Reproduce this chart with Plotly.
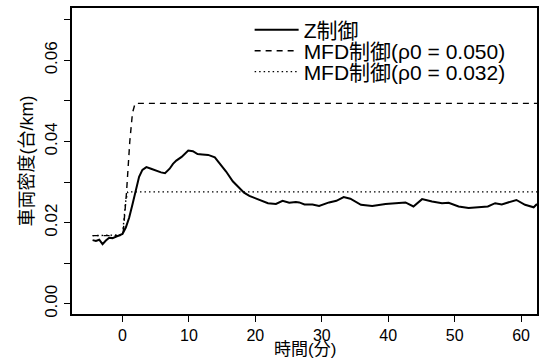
import plotly.graph_objects as go

# Z control (solid)
t_z = [-4.5, -4.0, -3.5, -3.0, -2.5, -2.0, -1.5, -1.0, -0.5, 0.0, 0.5, 1.0, 1.5, 2.0, 2.5,
       3.0, 3.6, 4.3, 5.1, 5.8, 6.4, 7.1, 7.6, 8.1, 8.9, 9.5, 9.9, 10.6, 11.3, 12.0, 12.9,
       13.9, 14.6, 15.6, 16.6, 17.6, 18.3, 19.1, 20.0, 20.6, 21.9, 23.1, 24.1, 25.1, 26.1,
       26.6, 27.4, 28.6, 29.6, 31.1, 32.2, 33.3, 34.3, 35.9, 37.6, 39.6, 41.0, 42.6, 43.8,
       45.1, 46.6, 48.1, 49.1, 50.6, 52.1, 53.6, 55.0, 56.1, 57.1, 59.3, 60.6, 61.9, 62.4]
v_z = [0.0157, 0.0155, 0.0158, 0.0147, 0.0156, 0.0163, 0.0162, 0.0165, 0.0168, 0.0172,
       0.0188, 0.0212, 0.0245, 0.0283, 0.0313, 0.0330, 0.0337, 0.0333, 0.0328, 0.0324,
       0.0322, 0.0333, 0.0345, 0.0353, 0.0362, 0.0372, 0.0378, 0.0376, 0.0369, 0.0368,
       0.0367, 0.0361, 0.0347, 0.0326, 0.0302, 0.0284, 0.0274, 0.0266, 0.0260, 0.0256,
       0.0248, 0.0246, 0.0254, 0.0249, 0.0251, 0.0250, 0.0245, 0.0245, 0.0241, 0.0250,
       0.0254, 0.0263, 0.0259, 0.0244, 0.0241, 0.0246, 0.0247, 0.0250, 0.0240, 0.0258,
       0.0252, 0.0248, 0.0249, 0.0240, 0.0236, 0.0238, 0.0240, 0.0248, 0.0245, 0.0256,
       0.0244, 0.0238, 0.0246]

# MFD control rho0 = 0.050 (dashed)
t_m50 = [-4.5, -0.2, 0.1, 0.6, 1.1, 1.5, 1.9, 62.4]
v_m50 = [0.0168, 0.0168, 0.0175, 0.0273, 0.0400, 0.0470, 0.0494, 0.0494]

# MFD control rho0 = 0.032 (dotted)
t_m32 = [-4.5, 0.0, 0.5, 0.8, 62.4]
v_m32 = [0.0168, 0.0170, 0.0255, 0.0276, 0.0276]

names = ["Z制御", "MFD制御(ρ0 = 0.050)", "MFD制御(ρ0 = 0.032)"]

x_ticks = [0, 10, 20, 30, 40, 50, 60]
y_ticks = [0.00, 0.01, 0.02, 0.03, 0.04, 0.05, 0.06, 0.07]
y_ticktext = ["0.00", "", "0.02", "", "0.04", "", "0.06", ""]

FONT = "Liberation Sans, Arial, Noto Sans CJK JP, sans-serif"

fig = go.Figure()
fig.add_trace(go.Scatter(x=t_z, y=v_z, mode="lines", name=names[0], legend="legend",
                         line=dict(color="black", width=2)))
fig.add_trace(go.Scatter(x=t_m50, y=v_m50, mode="lines", name=names[1], legend="legend2",
                         line=dict(color="black", width=1.4, dash="6px,5px")))
fig.add_trace(go.Scatter(x=t_m32, y=v_m32, mode="lines", name=names[2], legend="legend3",
                         line=dict(color="black", width=1.4, dash="1.5px,3px")))

leg_common = dict(x=0.382, xanchor="left", yanchor="middle",
                  bgcolor="rgba(0,0,0,0)", borderwidth=0,
                  font=dict(size=21, family=FONT), itemwidth=44)

fig.update_layout(
    width=542, height=360,
    margin=dict(l=72, r=3, t=8, b=46),
    paper_bgcolor="white", plot_bgcolor="white",
    font=dict(family=FONT, size=16, color="black"),
    showlegend=True,
    legend=dict(y=0.928, **leg_common),
    legend2=dict(y=0.859, **leg_common),
    legend3=dict(y=0.791, **leg_common),
    xaxis=dict(range=[-7.6, 62.4], tickvals=x_ticks, ticks="outside", ticklen=6,
               tickcolor="black", showgrid=False, zeroline=False,
               showline=True, linecolor="black", linewidth=1.5, mirror=True,
               tickfont=dict(size=16)),
    yaxis=dict(range=[-0.0025, 0.0729], tickvals=y_ticks, ticktext=y_ticktext,
               ticks="outside", ticklen=6, tickcolor="black", tickangle=-90,
               showgrid=False, zeroline=False,
               showline=True, linecolor="black", linewidth=1.5, mirror=True,
               tickfont=dict(size=17),
               title=dict(text="車両密度(台/km)", font=dict(size=18), standoff=4)),
    annotations=[dict(text="時間(分)", xref="paper", yref="paper", x=0.5, y=-0.1176,
                      xanchor="center", yanchor="middle", showarrow=False,
                      font=dict(size=17))],
)

fig.write_html("out.html")
